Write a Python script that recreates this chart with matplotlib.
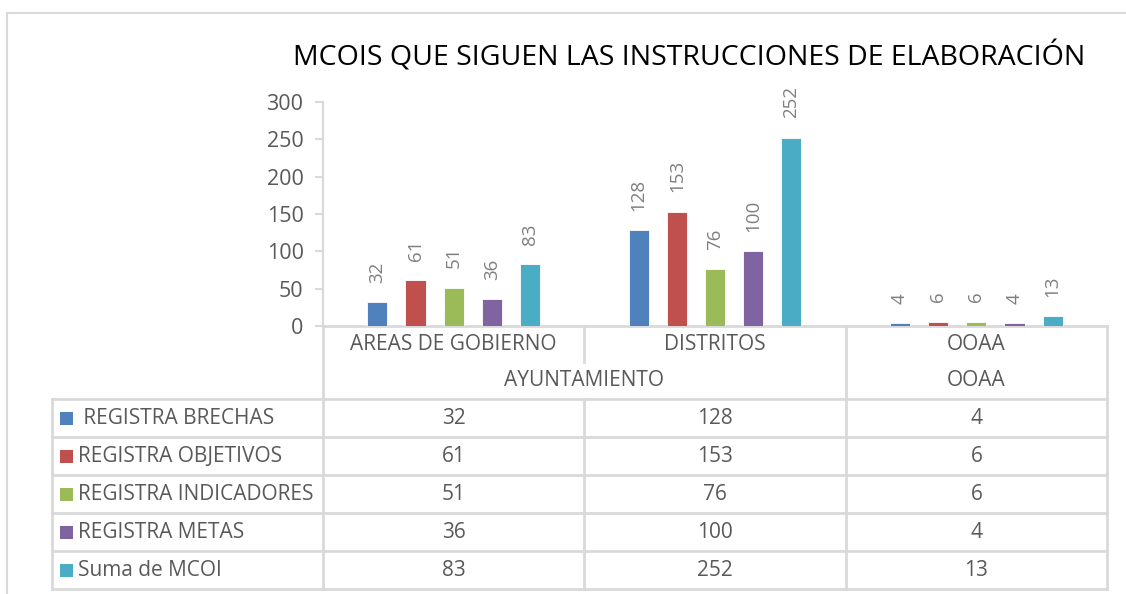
import matplotlib
matplotlib.use("Agg")
import matplotlib.pyplot as plt
from matplotlib.lines import Line2D
from matplotlib.patches import Rectangle

# ---------------- data ----------------
categories = ["AREAS DE GOBIERNO", "DISTRITOS", "OOAA"]
groups = ["AYUNTAMIENTO", "OOAA"]
group_span = [2, 1]
series_names = [" REGISTRA BRECHAS", "REGISTRA OBJETIVOS", "REGISTRA INDICADORES",
                "REGISTRA METAS", "Suma de MCOI"]
brechas = [32, 128, 4]
objetivos = [61, 153, 6]
indicadores = [51, 76, 6]
metas = [36, 100, 4]
suma_mcoi = [83, 252, 13]
series_values = [brechas, objetivos, indicadores, metas, suma_mcoi]
colors = ["#4F81BD", "#C0504D", "#9BBB59", "#8064A2", "#4BACC6"]
yticks = [0, 50, 100, 150, 200, 250, 300]
title = "MCOIS QUE SIGUEN LAS INSTRUCCIONES DE ELABORACIÓN"

FONT = "Open Sans"
GRID = "#D9D9D9"
TXT = "#595959"

W, H = 1126, 594
fig = plt.figure(figsize=(W / 100, H / 100), dpi=100)
fig.patch.set_facecolor("white")


def fx(x):
    return x / W


def fy(y):
    return 1 - y / H


# plot area in pixels
L, R, T, B = 323, 1107, 102, 326
ax = fig.add_axes([fx(L), fy(B), fx(R) - fx(L), fy(T) - fy(B)])
ax.set_xlim(0, len(categories))
ax.set_ylim(0, 300)

bw = 0.077
step = 0.146
n = len(series_values)
for i, (vals, col) in enumerate(zip(series_values, colors)):
    xs = [c + 0.5 + (i - (n - 1) / 2) * step for c in range(len(categories))]
    ax.bar(xs, vals, width=bw, color=col, edgecolor="white", linewidth=0.6, zorder=3)
    for x, v in zip(xs, vals):
        ax.annotate(str(v), (x, v), xytext=(0, 14), textcoords="offset points",
                    rotation=90, ha="center", va="bottom", fontsize=13.5,
                    color="#7F7F7F", family=FONT)

for s in ["top", "right"]:
    ax.spines[s].set_visible(False)
ax.spines["left"].set_color(GRID)
ax.spines["left"].set_linewidth(1.5)
ax.spines["bottom"].set_color(GRID)
ax.spines["bottom"].set_linewidth(2)
ax.set_yticks(yticks)
ax.set_yticklabels([str(t) for t in yticks], family=FONT, fontsize=15.5, color=TXT)
ax.tick_params(axis="y", length=6, width=1.5, color=GRID, pad=8)
ax.set_xticks([])
ax.patch.set_alpha(0)

# title
fig.text(fx(689), fy(57), title, ha="center", va="center", family=FONT,
         fontsize=20.5, color="black")

# ---------------- table ----------------
def hline(y, x0, x1, lw=2):
    fig.add_artist(Line2D([fx(x0), fx(x1)], [fy(y), fy(y)], color=GRID, lw=lw))


def vline(x, y0, y1, lw=2):
    fig.add_artist(Line2D([fx(x), fx(x)], [fy(y0), fy(y1)], color=GRID, lw=lw))


col_edges = [L + (R - L) * k / len(categories) for k in range(len(categories) + 1)]
row_edges = [399, 437, 475, 513, 551, 589]
LEG_L = 52
TFS = 15

# vertical lines
vline(col_edges[0], B, row_edges[-1])
vline(col_edges[-1], B, row_edges[-1])
vline(col_edges[2], B, row_edges[-1])
vline(col_edges[1], B, 362)
vline(col_edges[1], row_edges[0], row_edges[-1])
vline(LEG_L, row_edges[0], row_edges[-1])
for y in row_edges:
    hline(y, LEG_L, R)

# category labels
for k, cat in enumerate(categories):
    cx = (col_edges[k] + col_edges[k + 1]) / 2
    fig.text(fx(cx), fy(345), cat, ha="center", va="center", family=FONT,
             fontsize=TFS, color=TXT)

# group labels
start = 0
for g, span in zip(groups, group_span):
    cx = (col_edges[start] + col_edges[start + span]) / 2
    fig.text(fx(cx), fy(380), g, ha="center", va="center", family=FONT,
             fontsize=TFS, color=TXT)
    start += span

# data rows with legend keys
for r, (name, vals, col) in enumerate(zip(series_names, series_values, colors)):
    cy = (row_edges[r] + row_edges[r + 1]) / 2
    fig.add_artist(Rectangle((fx(60), fy(cy + 7)), fx(13), 13 / H,
                             facecolor=col, edgecolor="none"))
    fig.text(fx(78), fy(cy), name, ha="left", va="center", family=FONT,
             fontsize=TFS, color=TXT)
    for k, v in enumerate(vals):
        cx = (col_edges[k] + col_edges[k + 1]) / 2
        fig.text(fx(cx), fy(cy), str(v), ha="center", va="center", family=FONT,
                 fontsize=TFS, color=TXT)

# outer chart frame
fig.add_artist(Line2D([fx(7), fx(7)], [fy(13), 0], color=GRID, lw=1.5))
fig.add_artist(Line2D([fx(7), 1], [fy(13), fy(13)], color=GRID, lw=1.5))

fig.savefig("out.png", dpi=100, facecolor="white")
